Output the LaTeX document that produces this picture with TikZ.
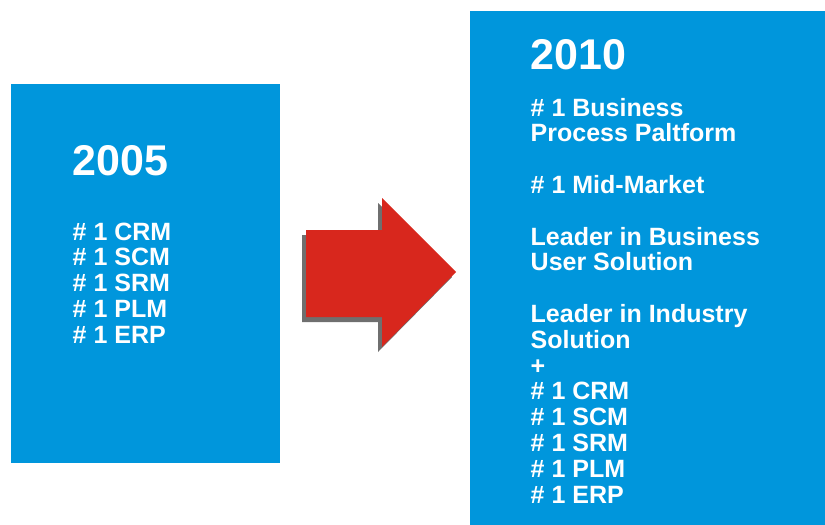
\documentclass[tikz,border=0pt]{standalone}
\usepackage{fontspec}
\setmainfont{Liberation Sans}
\newfontfamily\heavy{Liberation Sans Bold}
\definecolor{boxblue}{HTML}{0096DC}
\definecolor{arrowred}{HTML}{D8271D}
\definecolor{shadowgray}{HTML}{6F6F6F}

\begin{document}
\begin{tikzpicture}[x=1pt,y=-1pt,
  year/.style={anchor=base west,inner sep=0pt,text=white,font=\heavy\fontsize{43}{50}\selectfont},
  items/.style={anchor=base west,inner sep=0pt,text=white,align=left,font=\heavy\fontsize{25}{25.8}\selectfont}]
\useasboundingbox (0,0) rectangle (825,525);
\fill[boxblue] (11,84) rectangle (280,463);
\fill[boxblue] (470,11) rectangle (825,525);
\fill[shadowgray,xshift=-4pt,yshift=-5pt] (306,230) -- (382,230) -- (382,198) -- (456,272) -- (382,347) -- (382,317) -- (306,317) -- cycle;
\fill[arrowred] (306,230) -- (382,230) -- (382,198) -- (456,272) -- (382,347) -- (382,317) -- (306,317) -- cycle;
% base of a list node = baseline of its last line
\node[year] (y2005) at (72.5,175.5) {2005};
\node[items] (list2005) at (72.5,343.2) {\# 1 CRM\\\# 1 SCM\\\# 1 SRM\\\# 1 PLM\\\# 1 ERP};
\node[year] (y2010) at (530.5,69) {2010};
\node[items] (list2010) at (530.5,503) {\# 1 Business\\Process Paltform\\[25.8pt]\# 1 Mid-Market\\[25.8pt]Leader in Business\\User Solution\\[25.8pt]Leader in Industry\\Solution\\+\\\# 1 CRM\\\# 1 SCM\\\# 1 SRM\\\# 1 PLM\\\# 1 ERP};
\end{tikzpicture}
\end{document}
